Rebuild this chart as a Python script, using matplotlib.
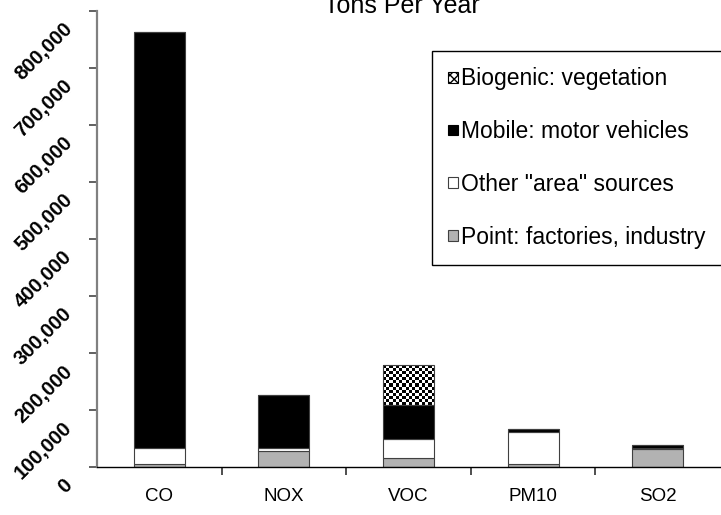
import numpy as np
import matplotlib
matplotlib.use('Agg')
import matplotlib.pyplot as plt
from matplotlib.patches import Patch
from matplotlib.transforms import ScaledTranslation

plt.rcParams['font.family'] = ['Liberation Sans', 'DejaVu Sans']
plt.rcParams['hatch.linewidth'] = 1.0

# tons per year, by source
categories = ['CO', 'NOX', 'VOC', 'PM10', 'SO2']
point_src = [6500, 29000, 15800, 5300, 32600]
area_src = [27500, 5300, 34200, 56000, 500]
mobile_src = [729000, 91700, 59000, 5200, 5900]
biogenic_src = [0, 0, 69600, 0, 0]

y_ticks = [0, 100000, 200000, 300000, 400000, 500000, 600000, 700000, 800000]

GRAY = '#b2b2b2'
EDGE = '#404040'
BAR_W = 0.41

fig = plt.figure(figsize=(7.21, 5.15), dpi=100)
ax = fig.add_axes([97 / 721, 47.7 / 515, 623 / 721, 456.3 / 515])

x = np.arange(len(categories))
point_src = np.array(point_src)
area_src = np.array(area_src)
mobile_src = np.array(mobile_src)
biogenic_src = np.array(biogenic_src)

ax.bar(x, point_src, BAR_W, color=GRAY, edgecolor=EDGE, lw=0.8, zorder=3)
ax.bar(x, area_src, BAR_W, bottom=point_src, color='white',
       edgecolor=EDGE, lw=0.8, zorder=3)
ax.bar(x, mobile_src, BAR_W, bottom=point_src + area_src, color='black',
       edgecolor=EDGE, lw=0.8, zorder=3)
bio_bars = ax.bar(x, biogenic_src, BAR_W,
                  bottom=point_src + area_src + mobile_src,
                  color='none', edgecolor=EDGE, lw=0.8, zorder=3)

ax.set_xlim(-0.5, len(categories) - 0.5)
ax.set_ylim(0, 800000)

# checkerboard fill for the biogenic part
fig.canvas.draw()
for rect in bio_bars:
    h = rect.get_height()
    if h <= 0:
        continue
    x0, w, y0 = rect.get_x(), rect.get_width(), rect.get_y()
    (px0, py0), (px1, py1) = ax.transData.transform([(x0, y0), (x0 + w, y0 + h)])
    nx = max(1, int(round((px1 - px0) / 3.1)))
    ny = max(1, int(round((py1 - py0) / 3.1)))
    board = np.indices((ny, nx)).sum(axis=0) % 2
    im = ax.imshow(board, cmap='gray', extent=(x0, x0 + w, y0, y0 + h),
                   aspect='auto', interpolation='nearest', zorder=2.5)
    im.set_clip_path(rect)

ax.set_xlim(-0.5, len(categories) - 0.5)
ax.set_ylim(0, 800000)

# axes styling
for side in ['top', 'right']:
    ax.spines[side].set_visible(False)
ax.spines['left'].set_color('#808080')
ax.spines['left'].set_linewidth(1.6)
ax.spines['bottom'].set_color('black')
ax.spines['bottom'].set_linewidth(1.0)
ax.spines['bottom'].set_zorder(4)

ax.set_xticks(x)
ax.set_xticklabels(categories, fontsize=13.5)
ax.tick_params(axis='x', which='major', length=0, pad=15)
ax.set_xticks(np.arange(0.5, len(categories) - 0.5, 1.0), minor=True)
ax.tick_params(axis='x', which='minor', length=6, width=1.2,
               color='#303030', direction='out')

ax.set_yticks(y_ticks)
ax.set_yticklabels(['{:,}'.format(v) for v in y_ticks], fontsize=14.5,
                   fontweight='bold', rotation=45, rotation_mode='anchor',
                   ha='right', va='center')
ax.tick_params(axis='y', length=6, width=1.4, color='#606060', pad=14)
shift = ScaledTranslation(0, -0.15, fig.dpi_scale_trans)
for lbl in ax.get_yticklabels():
    lbl.set_transform(lbl.get_transform() + shift)

fig.text(402 / 721, 1 - 13 / 515, 'Tons Per Year', ha='center',
         va='baseline', fontsize=18)

handles = [
    Patch(facecolor='white', edgecolor='black', hatch='xxxx', lw=0.8),
    Patch(facecolor='black', edgecolor='black', lw=0.8),
    Patch(facecolor='white', edgecolor='#404040', lw=0.8),
    Patch(facecolor=GRAY, edgecolor='#404040', lw=0.8),
]
labels = ['Biogenic: vegetation', 'Mobile: motor vehicles',
          'Other "area" sources', 'Point: factories, industry']
leg = fig.legend(handles, labels, loc='upper left',
                 bbox_to_anchor=(431.7 / 721, 1 - 51 / 515),
                 borderaxespad=0, fontsize=16.5, frameon=True, fancybox=False,
                 edgecolor='black', framealpha=1, handlelength=0.42,
                 handleheight=0.35, handletextpad=0.15, labelspacing=1.3,
                 borderpad=0.72)
leg.get_frame().set_linewidth(1.0)

fig.savefig('out.png', dpi=100)
